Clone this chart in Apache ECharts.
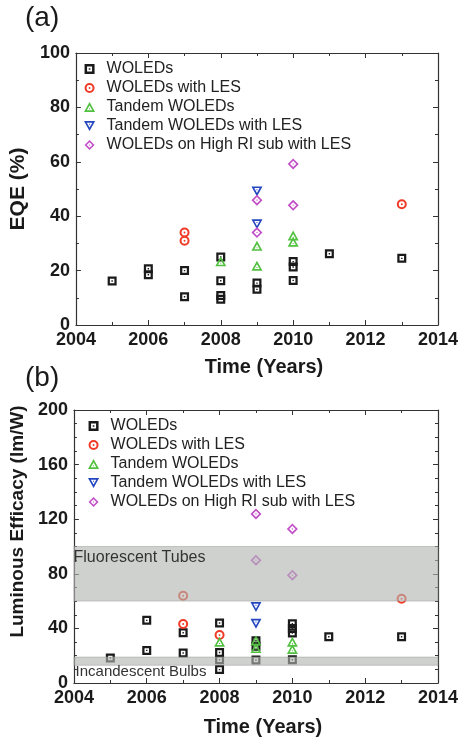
<!DOCTYPE html>
<html>
<head>
<meta charset="utf-8">
<script src="https://cdn.jsdelivr.net/npm/echarts@6.0.0/dist/echarts.min.js"></script>
<style>
  html, body { margin: 0; padding: 0; background: #fff; }
  #main { width: 466px; height: 742px; }
</style>
</head>
<body>
<div id="main"></div>
<script>
// series names (legend)
const seriesNames = [
  'WOLEDs',
  'WOLEDs with LES',
  'Tandem WOLEDs',
  'Tandem WOLEDs with LES',
  'WOLEDs on High RI sub with LES',
];

// (a) EQE (%) vs year
const eqeWoleds = [[2005, 16.2], [2006, 20.7], [2006, 18.5], [2007, 20], [2007, 10.4], [2008, 25], [2008, 16.3], [2008, 10.8], [2008, 9.5], [2009, 15.4], [2009, 13.1], [2010, 23.3], [2010, 21.3], [2010, 16.4], [2011, 26.2], [2013, 24.5]];
const eqeLes = [[2007, 34], [2007, 31], [2013, 44.4]];
const eqeTandem = [[2008, 23.4], [2009, 29.1], [2009, 21.8], [2010, 32.9], [2010, 30.6]];
const eqeTandemLes = [[2009, 49.1], [2009, 37]];
const eqeHighRi = [[2009, 45.9], [2009, 34], [2010, 59.2], [2010, 44]];

// (b) Luminous efficacy (lm/W) vs year
const leWoleds = [[2005, 18.3], [2006, 45.9], [2006, 23.9], [2007, 36.8], [2007, 22], [2008, 43.9], [2008, 22.4], [2008, 17], [2008, 9.8], [2009, 31], [2009, 27], [2009, 16.8], [2010, 43.4], [2010, 40], [2010, 36.6], [2010, 17], [2011, 33.9], [2013, 33.9]];
const leLes = [[2007, 63.9], [2007, 43.2], [2008, 35.1], [2013, 61.7]];
const leTandem = [[2008, 30.2], [2009, 31.2], [2009, 25.6], [2010, 30.2], [2010, 24.9]];
const leTandemLes = [[2009, 55.6], [2009, 43.4]];
const leHighRi = [[2009, 123.9], [2009, 90], [2010, 112.9], [2010, 79]];

// reference bands in (b)
const fluorescentBand = [60, 100];
const incandescentBand = [13, 19];

const colors = ['#1a1a1a', '#f03a26', '#52c040', '#2447c0', '#c24fc8'];

// hollow markers with a centre dot (filled ring paths)
const symbols = [
  'path://M0 0H20V20H0Z M5 5V15H15V5Z M8.4 8.4H11.6V11.6H8.4Z',
  'path://M10 0A10 10 0 1 1 10 20A10 10 0 1 1 10 0Z M10 4A6 6 0 1 0 10 16A6 6 0 1 0 10 4Z M10 8.1A1.9 1.9 0 1 1 10 11.9A1.9 1.9 0 1 1 10 8.1Z',
  'path://M10 0L20 18L0 18Z M10 6.2L5.1 15L14.9 15Z M9.1 11.3H10.9V13.1H9.1Z',
  'path://M0 0H20L10 18Z M5.1 3L10 11.8L14.9 3Z M9.1 4.9H10.9V6.7H9.1Z',
  'path://M10 0L20 10L10 20L0 10Z M10 4.3L4.3 10L10 15.7L15.7 10Z M9 9H11V11H9Z',
];
const symbolSizes = [[9, 9], [10, 10], [11, 10], [11, 10], [11, 11]];

const panelA = [eqeWoleds, eqeLes, eqeTandem, eqeTandemLes, eqeHighRi];
const panelB = [leWoleds, leLes, leTandem, leTandemLes, leHighRi];

const lineColor = '#333';
const tickLabel = { fontFamily: 'Liberation Sans', fontWeight: 'bold', fontSize: 18, color: '#1a1a1a' };
const nameStyle = { fontFamily: 'Liberation Sans', fontWeight: 'bold', fontSize: 20, color: '#1a1a1a' };

function xAxisDef(gridIndex, top) {
  return {
    type: 'value', gridIndex, position: top ? 'top' : 'bottom',
    min: 2004, max: 2014, interval: 2,
    axisLine: { show: true, onZero: false, lineStyle: { color: lineColor, width: 1.2 } },
    axisTick: { show: true, inside: true, length: 5, lineStyle: { color: lineColor } },
    minorTick: { show: true, splitNumber: 2, length: 3, lineStyle: { color: lineColor } },
    splitLine: { show: false },
    axisLabel: top ? { show: false } : Object.assign({ margin: 6, formatter: (v) => String(v) }, tickLabel),
    name: top ? '' : 'Time (Years)',
    nameLocation: 'middle',
    nameGap: gridIndex === 0 ? 32 : 34,
    nameTextStyle: Object.assign({ padding: [0, 0, 0, 14] }, nameStyle),
  };
}

function yAxisDef(gridIndex, right) {
  const isA = gridIndex === 0;
  return {
    type: 'value', gridIndex, position: right ? 'right' : 'left',
    min: 0, max: isA ? 100 : 200, interval: isA ? 20 : 40,
    axisLine: { show: true, onZero: false, lineStyle: { color: lineColor, width: 1.2 } },
    axisTick: { show: true, inside: true, length: 5, lineStyle: { color: lineColor } },
    minorTick: { show: true, splitNumber: isA ? 2 : 4, length: 3, lineStyle: { color: lineColor } },
    splitLine: { show: false },
    axisLabel: right ? { show: false } : Object.assign({ margin: 6 }, tickLabel),
    name: right ? '' : (isA ? 'EQE (%)' : 'Luminous Efficacy (lm/W)'),
    nameLocation: 'middle',
    nameGap: isA ? 45 : 46,
    nameTextStyle: Object.assign({ padding: isA ? 0 : [0, 0, 0, 50] }, nameStyle, { fontSize: isA ? 21 : 19 }),
  };
}

const series = [];
[panelA, panelB].forEach((panel, g) => {
  panel.forEach((data, i) => {
    series.push({
      name: seriesNames[i],
      type: 'scatter',
      xAxisIndex: g * 2,
      yAxisIndex: g * 2,
      data,
      symbol: symbols[i],
      symbolSize: symbolSizes[i],
      itemStyle: { color: colors[i], opacity: 1 },
      z: 2,
    });
  });
});

// grey reference bands drawn over the markers
series.push({
  type: 'scatter',
  xAxisIndex: 2,
  yAxisIndex: 2,
  data: [],
  z: 6,
  silent: true,
  markArea: {
    silent: true,
    z: 6,
    itemStyle: { color: 'rgba(178,181,178,0.62)', borderColor: 'rgba(150,152,150,0.6)', borderWidth: 0.8 },
    label: { fontFamily: 'Liberation Sans', fontSize: 16, color: '#333' },
    data: [
      [
        { yAxis: fluorescentBand[0], label: { show: true, position: 'insideTopLeft', offset: [-5, -2] }, name: 'Fluorescent Tubes' },
        { yAxis: fluorescentBand[1] },
      ],
      [
        { yAxis: incandescentBand[0], label: { show: true, position: 'insideBottomLeft', offset: [-3, 19], fontSize: 15 }, name: 'Incandescent Bulbs' },
        { yAxis: incandescentBand[1] },
      ],
    ],
  },
});

function legendDef(g, left, top) {
  return {
    orient: 'vertical',
    left, top,
    itemWidth: 24,
    itemHeight: 10,
    itemGap: 3,
    selectedMode: false,
    textStyle: { fontFamily: 'Liberation Sans', fontSize: 16, color: '#222' },
    data: seriesNames.map((n, i) => ({ name: n, icon: symbols[i], itemStyle: { color: colors[i] } })),
  };
}

const myChart = echarts.init(document.getElementById('main'), null, { renderer: 'canvas' });
myChart.setOption({
  animation: false,
  backgroundColor: '#fff',
  grid: [
    { left: 68, top: 53, width: 370, height: 272 },
    { left: 68, top: 410, width: 370, height: 273 },
  ],
  xAxis: [xAxisDef(0, false), xAxisDef(0, true), xAxisDef(1, false), xAxisDef(1, true)],
  yAxis: [yAxisDef(0, false), yAxisDef(0, true), yAxisDef(1, false), yAxisDef(1, true)],
  legend: [legendDef(0, 79, 56), legendDef(1, 83, 413)],
  graphic: [
    { type: 'text', left: 25, top: 4, style: { text: '(a)', fontFamily: 'Liberation Sans', fontSize: 28, fill: '#1a1a1a' } },
    { type: 'text', left: 25, top: 364, style: { text: '(b)', fontFamily: 'Liberation Sans', fontSize: 28, fill: '#1a1a1a' } },
  ],
  series,
});
</script>
</body>
</html>
